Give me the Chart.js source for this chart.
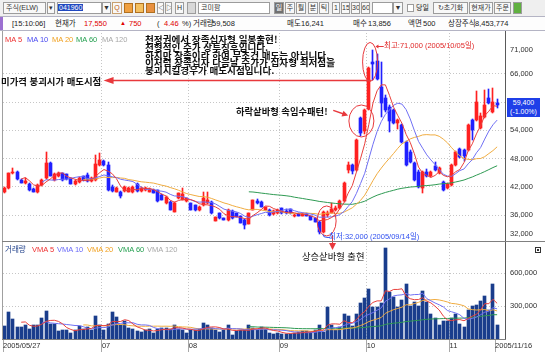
<!DOCTYPE html>
<html lang="ko">
<head>
<meta charset="utf-8">
<title>코미팜 일봉 차트</title>
<script src="https://cdn.jsdelivr.net/npm/chart.js@4.4.1/dist/chart.umd.min.js"></script>
<style>
  html, body { margin: 0; padding: 0; }
  body { width: 545px; height: 354px; overflow: hidden; position: relative; background: #fff;
         font-family: "Liberation Sans", "Noto Sans CJK KR", sans-serif; color: #222; }
  .abs { position: absolute; white-space: nowrap; }
  #bar1 { position: absolute; left: 0; top: 0; width: 545px; height: 16px; background: #efefef; }
  #bar2 { position: absolute; left: 0; top: 16px; width: 545px; height: 15px; background: #fdfdfd;
          border-top: 1px solid #b4b4c4; border-bottom: 1px solid #b4b4c4; box-sizing: border-box; }
  .b { position: absolute; top: 2px; height: 12px; box-sizing: border-box; border: 1px solid #9c9c9c;
       background: #f8f8f8; font-size: 7px; line-height: 10px; text-align: center; color: #333; overflow: hidden; }
  .ic { position: absolute; top: 3px; width: 9px; height: 10px; box-sizing: border-box; border: 1px solid #b07020; }
  .t2 { position: absolute; top: 16px; line-height: 15px; font-size: 7.5px; white-space: nowrap; }
  .lg { position: absolute; font-size: 7.5px; line-height: 9px; white-space: nowrap; }
  .note { position: absolute; white-space: nowrap; font-family: "Noto Sans CJK KR", sans-serif; z-index: 5; }
  canvas { position: absolute; left: 0; }
  .ln { position: absolute; z-index: 4; }
</style>
</head>
<body>

<div id="bar1">
  <div class="b" style="left:3px;width:43px;text-align:left;padding-left:2px">주식(ELW)</div>
  <div class="b" style="left:47px;width:8px">▾</div>
  <div class="b" style="left:57px;width:45px;background:#fff;text-align:left"><span style="background:#2048c0;color:#fff;padding:0 1px">041960</span></div>
  <div class="b" style="left:102px;width:9px">▼</div>
  <div class="b" style="left:112px;width:10px;color:#c06010;border-color:#c8a070">Q</div>
  <div class="ic" style="left:124px;background:#f0a040"></div>
  <div class="ic" style="left:135px;background:#f4c060"></div>
  <div class="ic" style="left:146px;background:#e89040"></div>
  <div class="b" style="left:157px;width:7px">◁</div>
  <div class="b" style="left:165px;width:7px">▷</div>
  <div class="b" style="left:175px;width:9px">H</div>
  <div class="b" style="left:187px;width:9px;background:#d8d8d8"></div>
  <div class="b" style="left:198px;width:72px;background:#fff;text-align:left;padding-left:2px">코미팜</div>
  <div class="b" style="left:274px;width:10px;background:#707070;color:#fff">일</div>
  <div class="b" style="left:285px;width:10px">주</div>
  <div class="b" style="left:296px;width:10px">월</div>
  <div class="b" style="left:308px;width:10px">분</div>
  <div class="b" style="left:319px;width:10px">틱</div>
  <div class="b" style="left:332px;width:8px">1</div>
  <div class="b" style="left:341px;width:9px">15</div>
  <div class="b" style="left:351px;width:9px">30</div>
  <div class="b" style="left:361px;width:9px">60</div>
  <div class="b" style="left:372px;width:21px;background:#fff"></div>
  <div class="b" style="left:393px;width:10px">▼</div>
  <div class="b" style="left:407px;width:7px;top:4px;height:8px;background:#fff"></div>
  <div class="abs" style="left:416px;top:2px;font-size:7px;line-height:12px">당일</div>
  <div class="b" style="left:433px;width:35px">↻초기화</div>
  <div class="b" style="left:469px;width:24px">현재가</div>
  <div class="b" style="left:494px;width:17px">주문</div>
  <div class="b" style="left:513px;width:9px;background:#60b040"></div>
</div>

<div id="bar2"></div>
<div class="abs" style="left:0;top:17px;width:3px;height:13px;background:#9b6fd0"></div>
<span class="t2" style="left:12px">[15:10:06]</span>
<span class="t2" style="left:55px">현재가</span>
<span class="t2" style="left:84px;color:#e00000">17,550</span>
<span class="t2" style="left:120px;color:#e00000;font-size:6px">▲</span>
<span class="t2" style="left:129px;color:#e00000">750</span>
<span class="t2" style="left:157px">(</span>
<span class="t2" style="left:164px;color:#e00000">4.46</span>
<span class="t2" style="left:182px">%)</span>
<span class="t2" style="left:193px">거래량</span>
<span class="t2" style="left:212px">59,508</span>
<span class="t2" style="left:287px">매도</span>
<span class="t2" style="left:301px">16,241</span>
<span class="t2" style="left:353px">매수</span>
<span class="t2" style="left:368px">13,856</span>
<span class="t2" style="left:408px">액면</span>
<span class="t2" style="left:423px">500</span>
<span class="t2" style="left:448px">상장주식</span>
<span class="t2" style="left:475px">8,453,774</span>

<canvas id="priceChart" width="545" height="210" style="top:31px"></canvas>
<canvas id="volChart" width="545" height="112" style="top:242px"></canvas>

<!-- panel frame -->
<div class="ln" style="left:2px;top:31px;width:1px;height:309px;background:#a0a0a0"></div>
<div class="ln" style="left:505px;top:31px;width:1px;height:309px;background:#5a5a5a"></div>
<div class="ln" style="left:2px;top:241px;width:543px;height:1px;background:#808080"></div>
<div class="ln" style="left:2px;top:339px;width:504px;height:1px;background:#808080"></div>

<!-- legends -->
<span class="lg" style="left:5px;top:35px;color:#ee3030">MA 5</span>
<span class="lg" style="left:27px;top:35px;color:#4a4af0">MA 10</span>
<span class="lg" style="left:52px;top:35px;color:#f0a020">MA 20</span>
<span class="lg" style="left:76px;top:35px;color:#25a050">MA 60</span>
<span class="lg" style="left:102px;top:35px;color:#a8a8a8">MA 120</span>
<span class="lg" style="left:5px;top:245px;color:#24448c">거래량</span>
<span class="lg" style="left:32px;top:245px;color:#ee3030">VMA 5</span>
<span class="lg" style="left:57px;top:245px;color:#6a6af8">VMA 10</span>
<span class="lg" style="left:87px;top:245px;color:#f0a020">VMA 20</span>
<span class="lg" style="left:118px;top:245px;color:#25a050">VMA 60</span>
<span class="lg" style="left:147px;top:245px;color:#a8a8a8">VMA 120</span>
<div class="abs" style="left:535px;top:247px;width:6px;height:6px;border:1px solid #333;background:#fff;box-sizing:border-box"><div style="margin:1px;width:2px;height:2px;background:#333"></div></div>

<!-- annotations -->
<div class="note" style="left:145px;top:36px;font-size:9.6px;line-height:7.8px;font-weight:700;color:#111">천정권에서 장족십자형 일봉출현!<br>전형적인 주가 상투징후입니다.<br>하지만 장족이라 하여 무조건 매도는 아닙니다.<br>이처럼 장족십자 다음날 주가가 십자형 최저점을<br>붕괴시킬경우가 매도시점입니다.</div>
<div class="note" style="left:1px;top:76px;font-size:9.4px;line-height:10px;font-weight:700;color:#111">미가격 붕괴시가 매도시점</div>
<div class="note" style="left:236px;top:106px;font-size:9.3px;line-height:10px;font-weight:700;color:#111">하락샅바형 속임수패턴!</div>
<div class="note" style="left:384px;top:41px;font-size:7.5px;line-height:10px;color:#e02828;font-family:'Liberation Sans','Noto Sans CJK KR',sans-serif">최고:71,000 (2005/10/05일)</div>
<div class="note" style="left:329px;top:232px;font-size:7.5px;line-height:10px;color:#3050f0;font-family:'Liberation Sans','Noto Sans CJK KR',sans-serif">최저:32,000 (2005/09/14일)</div>
<div class="note" style="left:302px;top:251px;font-size:9.3px;line-height:10px;color:#111">상승샅바형 출현</div>
<div class="abs" style="left:507px;top:98px;width:33px;height:19px;background:#1f3fe8;color:#fff;font-size:7px;line-height:8.5px;text-align:center;padding-top:1px;box-sizing:border-box;z-index:6">59,400<br>(-1.00%)</div>

<script>
// daily candles 2005/05/27 .. 2005/11/16 (120 trading days)
const opens = [
  40800, 41700, 44900, 45100, 43400, 42800, 42700, 41600, 40800, 42300,
  43800, 47000, 43500, 44400, 44900, 44700, 43800, 42600, 43100, 44200,
  44600, 43300, 43500, 46700, 47400, 46600, 42000, 41000, 41000, 41200,
  41000, 40800, 42700, 41200, 41300, 41000, 41300, 41300, 40200, 38500,
  38800, 36700, 39600, 39200, 38900, 38500, 38100, 37100, 38100, 38500,
  38800, 34800, 36400, 35300, 34900, 36900, 36400, 35800, 35000, 34200,
  37100, 38900, 38800, 37100, 37100, 36200, 36500, 37400, 36900, 37200,
  35700, 36300, 35900, 36300, 35800, 35300, 34600, 32300, 36000, 36500,
  37000, 37500, 38900, 45600, 46600, 45600, 56600, 53800, 58500, 68600,
  68800, 63300, 60800, 59000, 58300, 55500, 55100, 51600, 49500, 47000,
  45200, 41700, 45200, 44300, 46400, 44900, 43100, 41700, 42400, 46600,
  50000, 49800, 49800, 56200, 56200, 54500, 56900, 60800, 58000, 59800
];
const highs = [
  41900, 45000, 46000, 45300, 43600, 43800, 42800, 41700, 42500, 43600,
  49500, 47300, 45000, 45200, 45000, 44800, 43900, 43500, 44000, 44300,
  44900, 44000, 48800, 49100, 47800, 47300, 42300, 41900, 41100, 42100,
  41900, 42200, 42900, 41900, 42000, 41800, 41500, 41400, 40400, 40000,
  39000, 38700, 40700, 41700, 39700, 38600, 38200, 37900, 41000, 40900,
  39000, 35600, 36500, 35400, 37200, 37000, 36500, 35900, 35100, 36500,
  39300, 39400, 38900, 37800, 37200, 37000, 37200, 37500, 37300, 37300,
  36200, 36400, 36400, 36400, 35900, 35400, 34700, 36800, 36900, 38500,
  37900, 39200, 43000, 47200, 46800, 52200, 56900, 58600, 67400, 71000,
  70300, 68600, 61500, 59300, 58600, 56500, 55300, 51800, 49800, 47200,
  45500, 45400, 45700, 45300, 47300, 46200, 43300, 42900, 46800, 49600,
  50200, 50000, 55300, 56500, 62400, 57600, 62600, 62900, 63000, 60600
];
const lows = [
  40600, 41500, 44700, 43400, 42800, 42500, 41200, 40800, 40600, 42100,
  43600, 44200, 43300, 44100, 43300, 43400, 42600, 42300, 42900, 43300,
  43000, 43100, 43300, 46400, 46500, 41200, 40900, 40800, 39600, 41000,
  40800, 40700, 41000, 41000, 41200, 40900, 40600, 38700, 39100, 38400,
  37000, 36600, 39400, 39100, 38700, 37000, 36900, 36900, 38000, 38400,
  36300, 34700, 35200, 34900, 34800, 35200, 35500, 34300, 33000, 34100,
  37000, 38400, 37700, 37000, 35900, 36000, 36300, 36300, 36200, 36300,
  35600, 35800, 35800, 35700, 34900, 34500, 32000, 32100, 35500, 36400,
  36800, 37300, 38700, 45000, 44700, 45400, 52900, 53200, 58300, 64800,
  64700, 56900, 58000, 53700, 55300, 54300, 51400, 46400, 47100, 43300,
  41800, 40600, 44000, 44000, 45400, 44700, 41100, 41500, 42200, 46400,
  48200, 47400, 49600, 52000, 56000, 54300, 56700, 59600, 57800, 58800
];
const closes = [
  41700, 44900, 45200, 43600, 42900, 43300, 41400, 40900, 42400, 43400,
  47100, 44400, 44700, 45000, 43500, 43600, 42700, 43300, 43800, 43500,
  43200, 43800, 46900, 47800, 46700, 41400, 41100, 41700, 40000, 41900,
  41700, 42000, 41200, 41700, 41800, 41600, 40700, 38900, 39200, 39900,
  37100, 38600, 40600, 40500, 39600, 37100, 37100, 37800, 39600, 39200,
  36400, 35500, 35300, 35000, 37100, 35300, 35600, 34400, 33900, 36400,
  39200, 38500, 37800, 37700, 36100, 36800, 37000, 36400, 36500, 36400,
  36100, 35900, 36200, 35800, 35000, 34600, 32500, 36600, 36500, 37200,
  37600, 39000, 42800, 46600, 45300, 52000, 53500, 58300, 67200, 68100,
  65000, 59800, 58300, 55900, 55500, 56200, 51600, 46600, 47300, 43500,
  42000, 45200, 44200, 45100, 45600, 46000, 41300, 42700, 46600, 49500,
  48400, 48600, 55100, 54100, 60100, 57000, 59400, 59800, 60000, 59400
];
const volumes = [
  119000, 248000, 178000, 110000, 110000, 132000, 95000, 132000, 125000, 193000,
  254000, 141000, 141000, 73000, 80000, 86000, 55000, 80000, 119000, 95000,
  110000, 80000, 211000, 125000, 80000, 141000, 242000, 202000, 132000, 162000,
  101000, 89000, 70000, 64000, 80000, 95000, 58000, 89000, 101000, 101000,
  89000, 132000, 95000, 80000, 58000, 80000, 80000, 95000, 150000, 125000,
  101000, 80000, 64000, 80000, 132000, 40000, 70000, 80000, 80000, 125000,
  101000, 80000, 110000, 89000, 58000, 49000, 58000, 49000, 49000, 49000,
  58000, 64000, 70000, 70000, 64000, 80000, 125000, 64000, 294000, 125000,
  80000, 110000, 224000, 210000, 119000, 224000, 325000, 371000, 453000, 294000,
  294000, 325000, 829000, 425000, 385000, 294000, 355000, 499000, 303000, 340000,
  303000, 438000, 340000, 224000, 187000, 132000, 162000, 162000, 193000, 227000,
  141000, 110000, 263000, 300000, 309000, 346000, 392000, 263000, 499000, 125000
];
// x axis: bar index of the first trading day of each month, plus the two end dates
const xTickIndex = [0, 24, 45, 67, 88, 108, 119];
const xTickLabels = ['2005/05/27', '07', '08', '09', '10', '11', '2005/11/16'];
const priceTicks = [32000, 36000, 42000, 48000, 54000, 60000, 66000, 71000];
const volumeTicks = [300000, 600000];

const UP = '#ff2020', DOWN = '#2020ff';
const MA_COLORS = ['#e8403c', '#7070f4', '#f0ac40', '#2e9a52'];
const VOL_COLOR = '#1a3d8c';
const GRID = '#c6c6c6';
const X_MIN = -0.4, X_MAX = 120.9;
const TICK_FONT = { family: 'Liberation Sans', size: 7.5 };

function movingAverage(src, n) {
  const out = [];
  for (let i = n - 1; i < src.length; i++) {
    let s = 0;
    for (let k = i - n + 1; k <= i; k++) s += src[k];
    out.push({ x: i, y: s / n });
  }
  return out;
}

const candleColors = closes.map((c, i) => c >= opens[i] ? UP : DOWN);
const bodies = closes.map((c, i) => ({ x: i, y: [opens[i], c] }));
const wicks = closes.map((c, i) => ({ x: i, y: [lows[i], highs[i]] }));
const volBars = volumes.map((v, i) => ({ x: i, y: v }));

// snap bars to whole pixels so candles stay crisp like the original
const pixelSnap = {
  id: 'pixelSnap',
  beforeDatasetsDraw(chart) {
    chart.getSortedVisibleDatasetMetas().forEach(meta => {
      if (meta.type !== 'bar') return;
      meta.data.forEach(el => {
        el.x = Math.floor(el.x) + 0.5;
        el.y = Math.round(el.y);
        el.base = Math.round(el.base);
        if (Math.abs(el.base - el.y) < 1) el.base = el.y + 1;
      });
    });
  }
};

function arrowHead(ctx, tipX, tipY, fromX, fromY, len, half) {
  const a = Math.atan2(tipY - fromY, tipX - fromX);
  ctx.beginPath();
  ctx.moveTo(tipX, tipY);
  ctx.lineTo(tipX - len * Math.cos(a) + half * Math.sin(a), tipY - len * Math.sin(a) - half * Math.cos(a));
  ctx.lineTo(tipX - len * Math.cos(a) - half * Math.sin(a), tipY - len * Math.sin(a) + half * Math.cos(a));
  ctx.closePath();
  ctx.fill();
}

const priceNotes = {
  id: 'priceNotes',
  afterDatasetsDraw(chart) {
    const { ctx, scales: { x, y } } = chart;
    ctx.save();
    ctx.strokeStyle = '#e8383c';
    ctx.fillStyle = '#e8383c';
    ctx.lineWidth = 1;
    // circles: long-legged doji at the top, bearish belt hold, low + bullish belt hold
    [[88.3, 68550, 7.5, 19.5], [86.2, 56000, 12.5, 16], [77.8, 34750, 9.5, 15]].forEach(([i, v, rx, ry]) => {
      ctx.beginPath();
      ctx.ellipse(x.getPixelForValue(i), y.getPixelForValue(v), rx, ry, 0, 0, Math.PI * 2);
      ctx.stroke();
    });
    // sell line at the doji low
    const ly = Math.round(y.getPixelForValue(64800)) + 0.5;
    ctx.lineWidth = 1.4;
    ctx.beginPath();
    ctx.moveTo(x.getPixelForValue(25.6), ly);
    ctx.lineTo(x.getPixelForValue(88.5), ly);
    ctx.stroke();
    arrowHead(ctx, x.getPixelForValue(23.9), ly, x.getPixelForValue(30), ly, 10, 3.5);
    // small arrow in front of the high label
    const hy = Math.round(y.getPixelForValue(71950)) + 0.5;
    ctx.lineWidth = 1;
    ctx.beginPath();
    ctx.moveTo(x.getPixelForValue(91.6), hy);
    ctx.lineTo(x.getPixelForValue(89.9), hy);
    ctx.stroke();
    arrowHead(ctx, x.getPixelForValue(89.6), hy, x.getPixelForValue(91.6), hy, 3, 2);
    // arrow from the belt-hold text to its circle
    const ax0 = x.getPixelForValue(79.4), ay0 = y.getPixelForValue(58250);
    const ax1 = x.getPixelForValue(83.0), ay1 = y.getPixelForValue(57150);
    ctx.lineWidth = 1.5;
    ctx.beginPath();
    ctx.moveTo(ax0, ay0);
    ctx.lineTo(ax1 - 3, ay1 - 1);
    ctx.stroke();
    arrowHead(ctx, ax1, ay1, ax0, ay0, 6, 3);
    // red stem from the low circle down to the volume panel marker
    const sx = Math.round(x.getPixelForValue(79.1)) + 0.5;
    ctx.lineWidth = 1;
    ctx.beginPath();
    ctx.moveTo(sx, y.getPixelForValue(31700));
    ctx.lineTo(sx, chart.height);
    ctx.stroke();
    // blue connector to the low label
    ctx.strokeStyle = '#3050f0';
    const cx = x.getPixelForValue(76.9), cy = y.getPixelForValue(31250);
    ctx.beginPath();
    ctx.moveTo(cx, y.getPixelForValue(31900));
    ctx.quadraticCurveTo(cx, cy, cx + 4, cy);
    ctx.lineTo(x.getPixelForValue(78.7), cy);
    ctx.stroke();
    ctx.restore();
  }
};

const volNotes = {
  id: 'volNotes',
  afterDatasetsDraw(chart) {
    const { ctx, scales: { x } } = chart;
    const px = Math.round(x.getPixelForValue(79.1)) + 0.5;
    ctx.save();
    ctx.strokeStyle = '#e8383c';
    ctx.fillStyle = '#e8383c';
    ctx.beginPath();
    ctx.moveTo(px, 0);
    ctx.lineTo(px, 2);
    ctx.stroke();
    ctx.beginPath();
    ctx.moveTo(px - 3.5, 1);
    ctx.lineTo(px + 3.5, 1);
    ctx.lineTo(px, 8);
    ctx.closePath();
    ctx.fill();
    ctx.restore();
  }
};

function maLine(data, color) {
  return { type: 'line', data: data, borderColor: color, borderWidth: 1, pointRadius: 0, order: 0 };
}

new Chart(document.getElementById('priceChart'), {
  data: {
    datasets: [
      maLine(movingAverage(closes, 5), MA_COLORS[0]),
      maLine(movingAverage(closes, 10), MA_COLORS[1]),
      maLine(movingAverage(closes, 20), MA_COLORS[2]),
      maLine(movingAverage(closes, 60), MA_COLORS[3]),
      { type: 'bar', data: bodies, backgroundColor: candleColors, barThickness: 3, minBarLength: 1, grouped: false, order: 1 },
      { type: 'bar', data: wicks, backgroundColor: candleColors, barThickness: 1, grouped: false, order: 2 }
    ]
  },
  options: {
    responsive: false, animation: false, events: [],
    layout: { padding: { left: 3, top: 2, right: 0, bottom: 1 } },
    plugins: { legend: { display: false }, tooltip: { enabled: false } },
    scales: {
      x: {
        type: 'linear', min: X_MIN, max: X_MAX, offset: false,
        afterBuildTicks: s => { s.ticks = xTickIndex.slice(1, -1).map(i => ({ value: i - 0.5 })); },
        afterFit: s => { s.height = 0; s.paddingLeft = 0; s.paddingRight = 0; },
        ticks: { display: false },
        grid: { color: GRID, drawTicks: false, offset: false },
        border: { display: false, dash: [1, 2] }
      },
      y: {
        position: 'right', min: 30700, max: 74700,
        afterBuildTicks: s => { s.ticks = priceTicks.map(v => ({ value: v })); },
        afterFit: s => { s.width = 40; s.paddingTop = 0; s.paddingBottom = 0; },
        ticks: { font: TICK_FONT, color: '#303030', padding: 5, callback: v => v.toLocaleString('en-US') },
        grid: { color: c => (c.tick && c.tick.value % 6000 === 0) ? GRID : 'rgba(0,0,0,0)', drawTicks: false },
        border: { display: false, dash: [1, 2] }
      }
    }
  },
  plugins: [pixelSnap, priceNotes]
});

new Chart(document.getElementById('volChart'), {
  data: {
    datasets: [
      maLine(movingAverage(volumes, 5), MA_COLORS[0]),
      maLine(movingAverage(volumes, 10), MA_COLORS[1]),
      maLine(movingAverage(volumes, 20), MA_COLORS[2]),
      maLine(movingAverage(volumes, 60), MA_COLORS[3]),
      { type: 'bar', data: volBars, backgroundColor: VOL_COLOR, barThickness: 3, grouped: false, order: 1 }
    ]
  },
  options: {
    responsive: false, animation: false, events: [],
    layout: { padding: { left: 3, top: 1, right: 0, bottom: 0 } },
    plugins: { legend: { display: false }, tooltip: { enabled: false } },
    scales: {
      x: {
        type: 'linear', min: X_MIN, max: X_MAX, offset: false,
        afterBuildTicks: s => { s.ticks = xTickIndex.map((i, k) => ({ value: k === 0 ? X_MIN : i - 0.5 })); },
        afterFit: s => { s.height = 15; s.paddingLeft = 0; s.paddingRight = 0; },
        ticks: { autoSkip: false, maxRotation: 0, align: 'start', padding: -11, font: TICK_FONT, color: '#303030',
                 callback: (v, k) => xTickLabels[k] },
        grid: {
          color: c => (c.index > 0 && c.index < xTickIndex.length - 1) ? GRID : 'rgba(0,0,0,0)',
          tickColor: '#a8a8a8', tickLength: 13, drawTicks: true, offset: false
        },
        border: { display: false, dash: [1, 2] }
      },
      y: {
        position: 'right', min: 0, max: 875000,
        afterBuildTicks: s => { s.ticks = volumeTicks.map(v => ({ value: v })); },
        afterFit: s => { s.width = 40; s.paddingTop = 0; s.paddingBottom = 0; },
        ticks: { font: TICK_FONT, color: '#303030', padding: 5, callback: v => v.toLocaleString('en-US') },
        grid: { color: GRID, drawTicks: false },
        border: { display: false, dash: [1, 2] }
      }
    }
  },
  plugins: [pixelSnap, volNotes]
});
</script>
</body>
</html>
